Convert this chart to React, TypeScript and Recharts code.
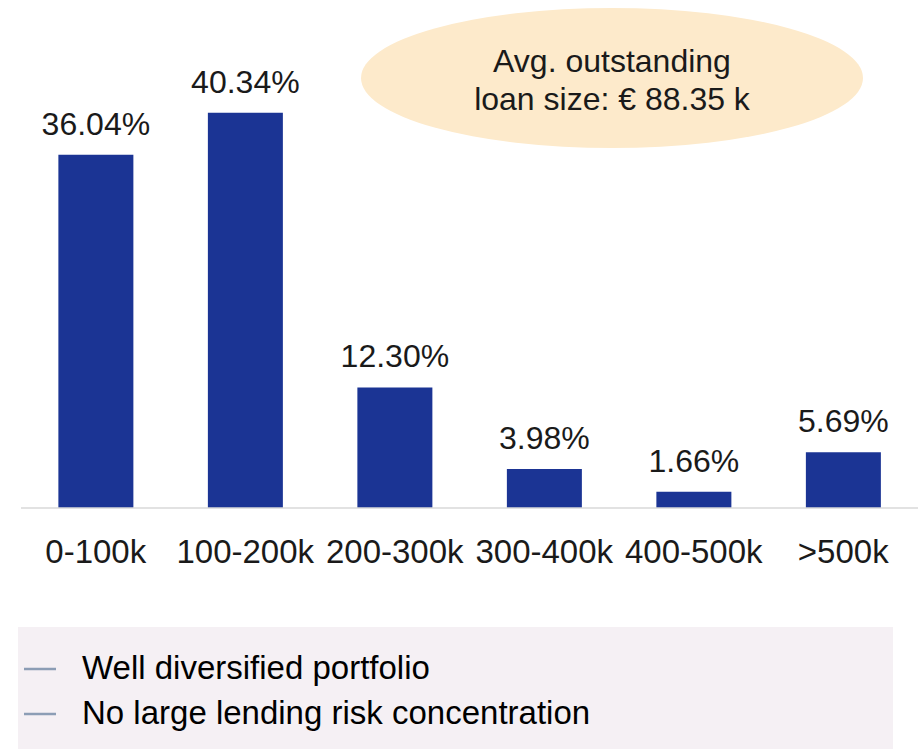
import React from 'react';
import { BarChart, Bar, XAxis, YAxis, LabelList } from 'recharts';

const categories = ['0-100k', '100-200k', '200-300k', '300-400k', '400-500k', '>500k'];
const shares = [36.04, 40.34, 12.3, 3.98, 1.66, 5.69];
const calloutLines = ['Avg. outstanding', 'loan size: € 88.35 k'];
const notes = ['Well diversified portfolio', 'No large lending risk concentration'];

const data = categories.map((name, i) => ({ name, share: shares[i] }));

const FONT = '"Liberation Sans", Arial, sans-serif';
const INK = '#1a1a1a';

const App: React.FC = () => {
  return (
    <div style={{ position: 'absolute', left: 0, top: 0, width: 918, height: 749, background: '#fff', fontFamily: FONT }}>
      <svg width={918} height={749} style={{ position: 'absolute', left: 0, top: 0 }}>
        <ellipse cx={612} cy={78} rx={251} ry={70} fill="#FDEACB" />
        {calloutLines.map((t, i) => (
          <text key={t} x={612} y={72 + i * 38} textAnchor="middle" fontSize={32} fill={INK} fontFamily={FONT}>
            {t}
          </text>
        ))}
        <rect x={18} y={627} width={875} height={122} fill="#F5F0F4" />
        {notes.map((t, i) => (
          <g key={t}>
            <line x1={24} x2={56} y1={669 + i * 45} y2={669 + i * 45} stroke="#8C9DB5" strokeWidth={2.5} />
            <text x={82} y={679 + i * 45} fontSize={33} fill="#000" fontFamily={FONT}>
              {t}
            </text>
          </g>
        ))}
      </svg>
      <div style={{ position: 'absolute', left: 0, top: 0 }}>
        <BarChart
          width={918}
          height={580}
          data={data}
          margin={{ top: 18, right: 0, left: 21, bottom: 12 }}
          barCategoryGap="25%"
        >
          <XAxis
            dataKey="name"
            interval={0}
            tickLine={false}
            tickSize={0}
            tickMargin={32}
            height={60}
            axisLine={{ stroke: '#d9d9d9', strokeWidth: 1.5 }}
            tick={{ fontSize: 33, fill: INK, fontFamily: FONT }}
          />
          <YAxis hide domain={[0, 50]} />
          <Bar dataKey="share" fill="#1B3494" isAnimationActive={false}>
            <LabelList
              dataKey="share"
              position="top"
              offset={20}
              formatter={(v: number) => `${v.toFixed(2)}%`}
              style={{ fontSize: 32, fill: INK, fontFamily: FONT }}
            />
          </Bar>
        </BarChart>
      </div>
    </div>
  );
};

export default App;
